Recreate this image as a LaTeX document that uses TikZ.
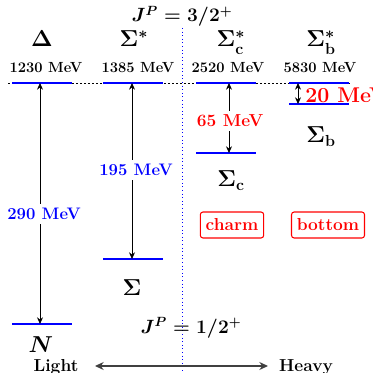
\documentclass[tikz,border=0pt]{standalone}
\usetikzlibrary{arrows.meta}
\begin{document}
\begin{tikzpicture}[x=0.75pt,y=-0.75pt,
 lvl/.style={draw=blue,line width=1.6pt},
 gap/.style={{Stealth[length=5pt,width=4.5pt]}-{Stealth[length=5pt,width=4.5pt]},line width=0.6pt},
 mev/.style={font=\fontsize{11}{12}\selectfont\bfseries, inner sep=0pt, anchor=base},
 gapb/.style={font=\fontsize{12.5}{14}\selectfont\bfseries, text=blue, fill=white, inner xsep=1pt, inner ysep=3pt},
 gapr/.style={font=\fontsize{13}{15}\selectfont\bfseries, text=red, fill=white, inner xsep=1pt, inner ysep=3pt},
 big/.style={font=\fontsize{17}{20}\selectfont\boldmath, inner sep=0pt, anchor=base},
 bigger/.style={font=\fontsize{18.5}{21}\selectfont\boldmath, inner sep=0pt, anchor=base},
 jp/.style={font=\fontsize{14.4}{17}\selectfont\boldmath, inner sep=0pt, anchor=base},
 flav/.style={draw=red, text=red, rounded corners=2pt, line width=0.8pt, font=\fontsize{13}{15}\selectfont\bfseries, minimum height=19.5pt, inner xsep=4pt, inner ysep=0pt},
 side/.style={font=\fontsize{13}{15}\selectfont\bfseries, inner sep=0pt, anchor=base}]
\useasboundingbox (0,0) rectangle (373,373);
% reference lines
\coordinate (dl) at (8,83); \coordinate (dr) at (352,83);
\draw[dash pattern=on 1.5pt off 1.5pt, line width=0.6pt] (dl) -- (dr);
\coordinate (vt) at (182,28); \coordinate (vb) at (182,373);
\draw[blue, dotted, line width=0.7pt] (vt) -- (vb);
% levels
\coordinate (D1) at (12,83); \coordinate (D2) at (72,83);
\coordinate (S1) at (103,83); \coordinate (S2) at (163,83);
\coordinate (C1) at (196,83); \coordinate (C2) at (256,83);
\coordinate (B1) at (289,83); \coordinate (B2) at (349,83);
\coordinate (b1) at (289,104); \coordinate (b2) at (349,104);
\coordinate (c1) at (196,153); \coordinate (c2) at (256,153);
\coordinate (s1) at (103,259); \coordinate (s2) at (163,259);
\coordinate (n1) at (12,324); \coordinate (n2) at (72,324);
\foreach \a/\b in {D1/D2,S1/S2,C1/C2,B1/B2,b1/b2,c1/c2,s1/s2,n1/n2} \draw[lvl] (\a) -- (\b);
% gap arrows
\coordinate (aD) at (40,83); \coordinate (aN) at (40,324);
\coordinate (aS) at (132,83); \coordinate (as) at (132,259);
\coordinate (aC) at (229,83); \coordinate (ac) at (229,153);
\coordinate (aB) at (298,83); \coordinate (ab) at (298,104);
\draw[gap] (aD) -- (aN);
\draw[gap] (aS) -- (as);
\draw[gap] (aC) -- (ac);
\draw[gap] (aB) -- (ab);
\node[gapb] (g290) at (44,214) {290 MeV};
\node[gapb] (g195) at (136,170) {195 MeV};
\node[gapr] (g65) at (230,121) {65 MeV};
\node[gapr, anchor=west, fill=none, inner sep=0pt, font=\fontsize{16}{18}\selectfont\bfseries] (g20) at (305,95) {20 MeV};
% particle names
\node[big] (Delta) at (42,47) {$\Delta$};
\node[big] (Sst) at (134,47) {$\Sigma^*$};
\node[big] (Scst) at (231,47) {$\Sigma^*_{\mathbf{c}}$};
\node[big] (Sbst) at (321,47) {$\Sigma^*_{\mathbf{b}}$};
\node[big] (Sb) at (321,143) {$\Sigma_{\mathbf{b}}$};
\node[big] (Sc) at (231,187) {$\Sigma_{\mathbf{c}}$};
\node[bigger] (Sig) at (132,295) {$\Sigma$};
\node[bigger] (Nuc) at (41,352) {$N$};
% masses
\node[mev] (m1) at (46,73) {1230 MeV};
\node[mev] (m2) at (138,73) {1385 MeV};
\node[mev] (m3) at (228,73) {2520 MeV};
\node[mev] (m4) at (320,73) {5830 MeV};
% J^P
\node[jp] (j3) at (182,22) {$J^P = 3/2^+$};
\node[jp] (j1) at (191,333) {$J^P = 1/2^+$};
% flavour boxes
\node[flav] (charm) at (232,225) {charm};
\node[flav] (bottom) at (328,225) {bottom};
% light-heavy
\node[side] (light) at (56,371) {Light};
\node[side] (heavy) at (306,371) {Heavy};
\coordinate (al) at (95,366); \coordinate (ah) at (268,366);
\draw[{Stealth[length=6.5pt,width=6pt]}-{Stealth[length=6.5pt,width=6pt]}, black!75, line width=0.9pt] (al) -- (ah);
\end{tikzpicture}
\end{document}
